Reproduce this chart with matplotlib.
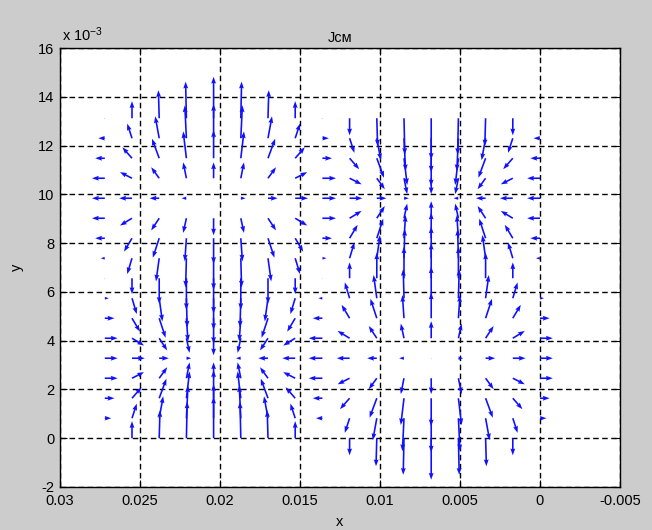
import matplotlib
matplotlib.use("Agg")
import matplotlib.pyplot as plt
from matplotlib.ticker import FuncFormatter

plt.rcParams["font.family"] = ["Liberation Sans", "DejaVu Sans"]
plt.rcParams["mathtext.default"] = "regular"

# grid points of the quiver field (m)
x_grid = [0.0, 0.0017, 0.0034, 0.0051, 0.0068, 0.0085, 0.0102, 0.0119, 0.0136,
          0.0153, 0.0170, 0.0187, 0.0204, 0.0221, 0.0238, 0.0255, 0.0272]
y_grid = [0.0, 0.00082, 0.00164, 0.00246, 0.00328, 0.0041, 0.00492, 0.00574, 0.00656,
          0.00738, 0.0082, 0.00902, 0.00984, 0.01066, 0.01148, 0.0123, 0.01312]

# Jсм components (units of 1e-4), one row per y_grid value
jx = [
    [-0.5, 0, -0.5, -0.5, 0, 0.5, 0.5, 0, 0.5, 0, 0.5, 0.5, 0, -0.5, -0.5, 0, -0.5],
    [-4, -3, -2.5, -1, 0, 1, 2.5, 3, 4, 3, 2.5, 1, 0, -1, -2.5, -3, -4],
    [-6, -6, -4.5, -2, 0, 2, 4.5, 6, 6, 6, 4.5, 2, 0, -2, -4.5, -6, -6],
    [-8, -7.5, -5, -2, 0, 2, 5, 7.5, 8.5, 7.5, 5, 2, 0, -2, -5, -7.5, -8],
    [-8, -8, -6, -3, 0, 3, 6, 8, 8.5, 8, 6, 3, 0, -3, -6, -8, -8],
    [-8, -7.5, -5, -2, 0, 2, 5, 7.5, 8.5, 7.5, 5, 2, 0, -2, -5, -7.5, -8],
    [-6, -5, -4, -1, 0, 1, 4, 5, 6, 5, 4, 1, 0, -1, -4, -5, -6],
    [-2.5, -3, -2, -0.5, 0, 0.5, 2, 3, 2.5, 3, 2, 0.5, 0, -0.5, -2, -3, -2.5],
    [0, 0, 0, 0, 0, 0, 0, 0, 0, 0, 0, 0, 0, 0, 0, 0, 0],
    [2.5, 3, 2, 0.5, 0, -0.5, -2, -3, -2.5, -3, -2, -0.5, 0, 0.5, 2, 3, 2.5],
    [6, 5, 4, 1, 0, -1, -4, -5, -6, -5, -4, -1, 0, 1, 4, 5, 6],
    [8, 7.5, 5, 2, 0, -2, -5, -7.5, -8.5, -7.5, -5, -2, 0, 2, 5, 7.5, 8],
    [8, 8, 6, 3, 0, -3, -6, -8, -8.5, -8, -6, -3, 0, 3, 6, 8, 8],
    [8, 7.5, 5, 2, 0, -2, -5, -7.5, -8.5, -7.5, -5, -2, 0, 2, 5, 7.5, 8],
    [6, 6, 4.5, 2, 0, -2, -4.5, -6, -6, -6, -4.5, -2, 0, 2, 4.5, 6, 6],
    [4, 3, 2.5, 1, 0, -1, -2.5, -3, -4, -3, -2.5, -1, 0, 1, 2.5, 3, 4],
    [0.5, 0, 0.5, 0.5, 0, -0.5, -0.5, 0, -0.5, 0, -0.5, -0.5, 0, 0.5, 0.5, 0, 0.5],
]
jy = [
    [0, -7, -11.5, -15, -17, -15, -11.5, -7, 0, 7, 11.5, 15, 17, 15, 11.5, 7, 0],
    [0, -6, -9, -13.5, -14, -13.5, -9, -6, 0, 6, 9, 13.5, 14, 13.5, 9, 6, 0],
    [0, -4.5, -8, -11, -11.5, -11, -8, -4.5, 0, 4.5, 8, 11, 11.5, 11, 8, 4.5, 0],
    [0, -2.5, -4.5, -6.5, -6.5, -6.5, -4.5, -2.5, 0, 2.5, 4.5, 6.5, 6.5, 6.5, 4.5, 2.5, 0],
    [0, 0, 0, 0, 0, 0, 0, 0, 0, 0, 0, 0, 0, 0, 0, 0, 0],
    [0, 3, 5, 6, 7, 6, 5, 3, 0, -3, -5, -6, -7, -6, -5, -3, 0],
    [0, 5.5, 8, 9.5, 10.5, 9.5, 8, 5.5, 0, -5.5, -8, -9.5, -10.5, -9.5, -8, -5.5, 0],
    [0, 6.5, 9.5, 12, 13, 12, 9.5, 6.5, 0, -6.5, -9.5, -12, -13, -12, -9.5, -6.5, 0],
    [0, 6.5, 10.5, 13, 14.5, 13, 10.5, 6.5, 0, -6.5, -10.5, -13, -14.5, -13, -10.5, -6.5, 0],
    [0, 6.5, 9.5, 12, 13, 12, 9.5, 6.5, 0, -6.5, -9.5, -12, -13, -12, -9.5, -6.5, 0],
    [0, 5.5, 8, 9.5, 10.5, 9.5, 8, 5.5, 0, -5.5, -8, -9.5, -10.5, -9.5, -8, -5.5, 0],
    [0, 3, 5, 6, 7, 6, 5, 3, 0, -3, -5, -6, -7, -6, -5, -3, 0],
    [0, 0, 0, 0, 0, 0, 0, 0, 0, 0, 0, 0, 0, 0, 0, 0, 0],
    [0, -2.5, -4.5, -6.5, -6.5, -6.5, -4.5, -2.5, 0, 2.5, 4.5, 6.5, 6.5, 6.5, 4.5, 2.5, 0],
    [0, -4.5, -8, -11, -11.5, -11, -8, -4.5, 0, 4.5, 8, 11, 11.5, 11, 8, 4.5, 0],
    [0, -6, -9, -13.5, -14, -13.5, -9, -6, 0, 6, 9, 13.5, 14, 13.5, 9, 6, 0],
    [0, -7, -11.5, -15, -17, -15, -11.5, -7, 0, 7, 11.5, 15, 17, 15, 11.5, 7, 0],
]

x_ticks = [0.03, 0.025, 0.02, 0.015, 0.01, 0.005, 0, -0.005]
x_tick_labels = ["0.03", "0.025", "0.02", "0.015", "0.01", "0.005", "0", "-0.005"]
y_ticks = [-0.002, 0, 0.002, 0.004, 0.006, 0.008, 0.01, 0.012, 0.014, 0.016]

fig = plt.figure(figsize=(6.52, 5.30), dpi=100, facecolor="#cccccc")
ax = fig.add_axes([60 / 652, 1 - 487 / 530, 560 / 652, 439 / 530])
ax.set_facecolor("white")

X, Y = [], []
for yv in y_grid:
    X.append(list(x_grid))
    Y.append([yv] * len(x_grid))

ax.quiver(X, Y, jx, jy, angles="xy", scale_units="xy", scale=1e4,
          color="#1010ff", width=0.0029, headwidth=3.0, headlength=4.2,
          headaxislength=3.8, minlength=0.3, zorder=3)

ax.set_xlim(0.03, -0.005)
ax.set_ylim(-0.002, 0.016)
ax.set_xticks(x_ticks)
ax.set_xticklabels(x_tick_labels)
ax.set_yticks(y_ticks)
ax.yaxis.set_major_formatter(FuncFormatter(lambda v, p: f"{v * 1000:.0f}"))

ax.grid(True, color="black", linestyle=(0, (4, 2.5)), linewidth=1.0, zorder=1)
ax.tick_params(direction="in", length=5, width=0.8, top=True, right=True,
               labelsize=10.5, colors="black")
ax.tick_params(axis="x", pad=5)
ax.tick_params(axis="y", pad=4)
for s in ax.spines.values():
    s.set_linewidth(1.0)
    s.set_color("black")

ax.set_title("Jсм", fontsize=10.5, pad=4)
ax.set_xlabel("x", fontsize=10.5, labelpad=5)
ax.set_ylabel("y", fontsize=10.5, labelpad=10)
ax.text(0.003, 1.008, r"x 10$^{-3}$", transform=ax.transAxes,
        ha="left", va="bottom", fontsize=10.5)

fig.savefig("out.png", dpi=100, facecolor=fig.get_facecolor())
